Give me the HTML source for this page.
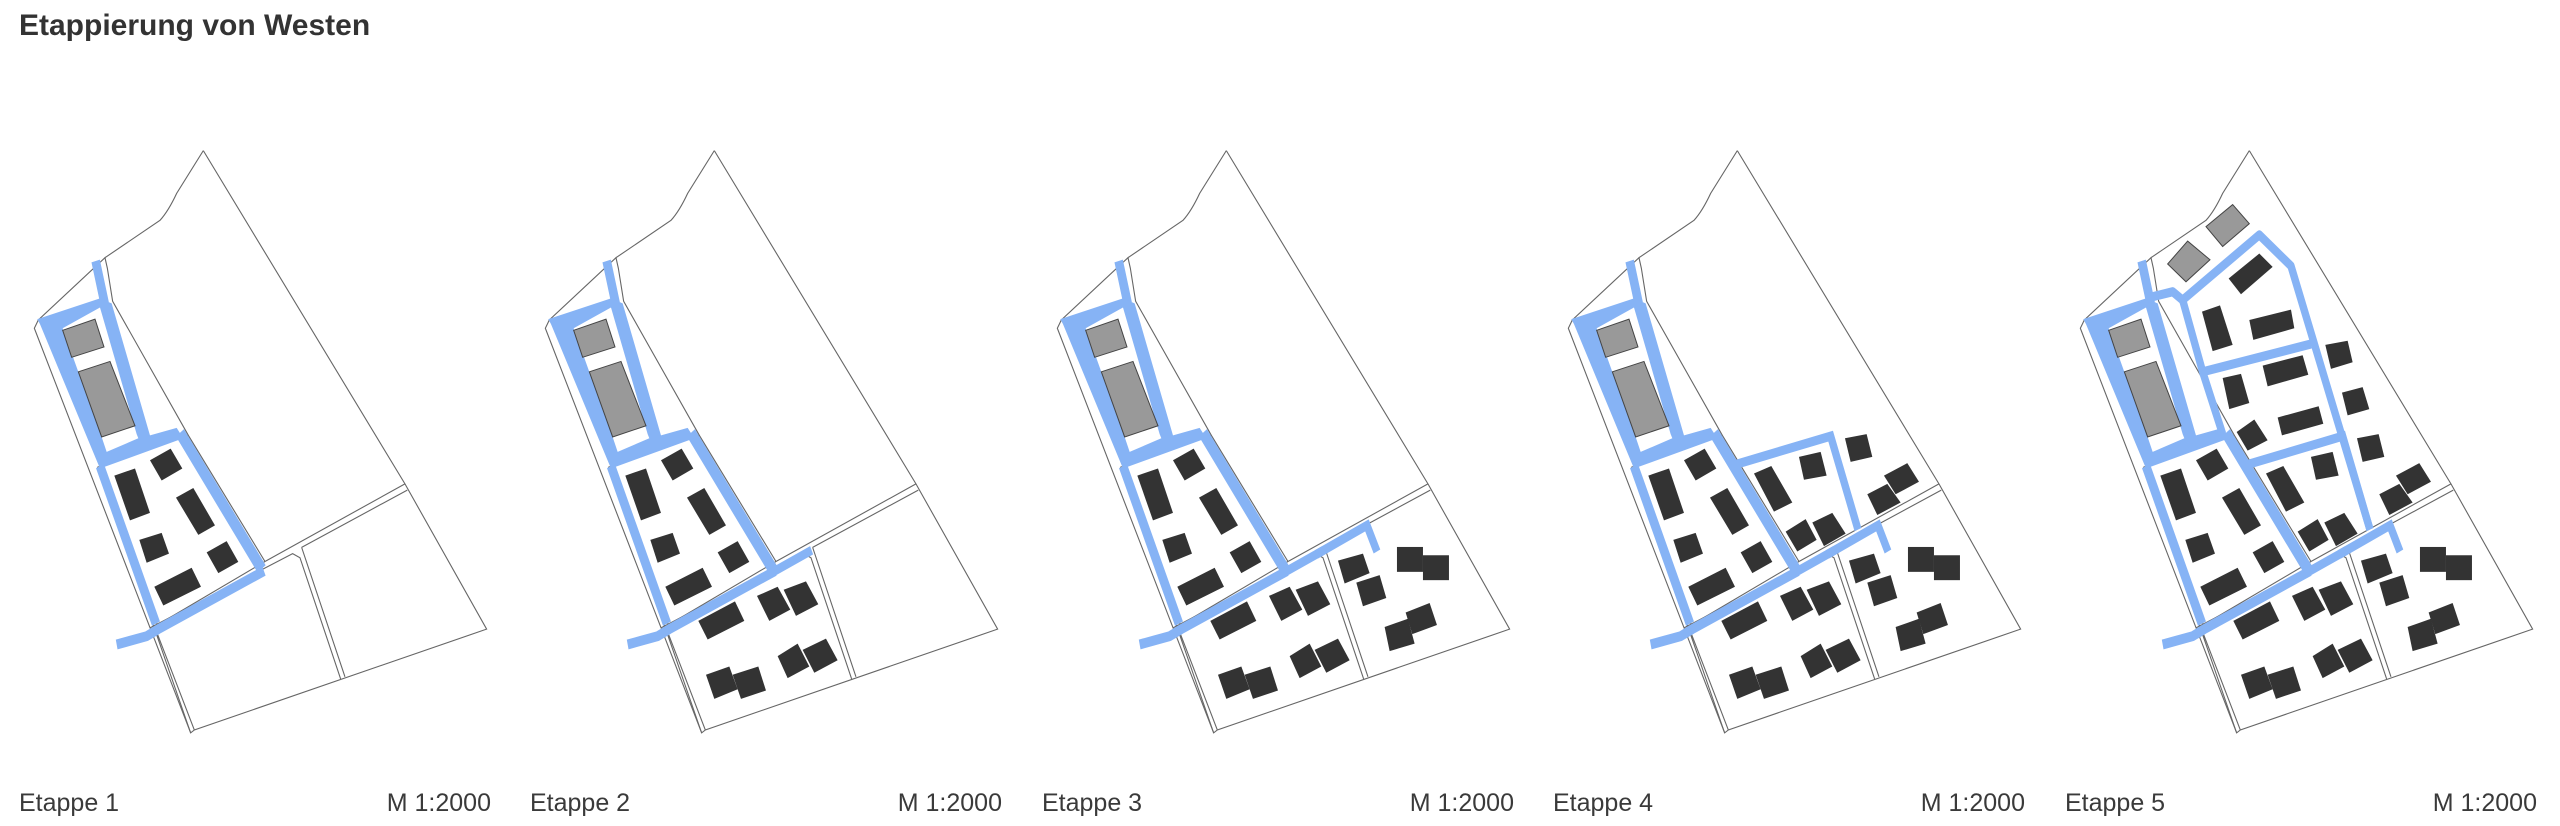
<!DOCTYPE html>
<html><head><meta charset="utf-8"><style>
html,body{margin:0;padding:0;background:#fff;}
svg{display:block;}
.t{font-family:"Liberation Sans",sans-serif;fill:#3a3a3a;}
</style></head><body>
<svg width="2560" height="826" viewBox="0 0 2560 826" xmlns="http://www.w3.org/2000/svg">
<defs>
<g id="base">
  <g fill="none" stroke="#666" stroke-width="1.1">
    <path vector-effect="non-scaling-stroke" d="M610,122 L1215,925 L1460,1275 L583,1518 L572,1525 L103,550 L115,530 L315,380 L322,405 L338,485 L565,808 L795,1112"/>
    <path vector-effect="non-scaling-stroke" d="M315,380 L480,290 Q505,268 530,225 L610,122"/>
    <path vector-effect="non-scaling-stroke" d="M292,885 L565,808"/>
    <path vector-effect="non-scaling-stroke" d="M292,885 L462,1270 M302,890 L472,1265"/>
    <path vector-effect="non-scaling-stroke" d="M450,1272 L878,1093 L900,1103 L1022,1395"/>
    <path vector-effect="non-scaling-stroke" d="M795,1112 L1215,925 M905,1078 L1222,940 M905,1078 L1035,1390"/>
    <path vector-effect="non-scaling-stroke" d="M472,1265 L795,1112"/>
    <path vector-effect="non-scaling-stroke" d="M462,1270 L572,1525 M470,1282 L583,1518"/>
  </g>
  <g fill="none" stroke="#86b3f5" stroke-linejoin="miter">
    <line x1="287" y1="388" x2="314" y2="490" stroke-width="26"/>
    <line x1="300" y1="882" x2="468" y2="1262" stroke-width="26"/>
    <line x1="540" y1="802" x2="785" y2="1130" stroke-width="30"/>
    <polyline points="350,1312 440,1292 475,1275 792,1135" stroke-width="24"/>
  </g>
  <polygon fill="#86b3f5" points="112,528 300,478 335,490 450,808 530,790 550,815 300,888 120,540"/>
  <polygon fill="#fff" points="188,550 300,500 410,805 415,815 320,848 305,812 235,655"/>
  <polygon fill="#999" stroke="#444" stroke-width="1" vector-effect="non-scaling-stroke" points="188,555 285,528 312,595 215,620"/>
  <polygon fill="#999" stroke="#444" stroke-width="1" vector-effect="non-scaling-stroke" points="235,655 330,630 405,785 305,812"/>
  <g fill="#333">
    <polygon points="343,905 405,888 450,995 390,1013"/>
    <polygon points="450,868 512,840 547,888 485,917"/>
    <polygon points="528,958 580,935 645,1025 595,1048"/>
    <polygon points="418,1060 485,1043 507,1093 440,1115"/>
    <polygon points="620,1090 680,1063 715,1113 655,1140"/>
    <polygon points="463,1173 575,1127 603,1173 490,1218"/>
  </g>
</g>
<g id="s2">
  <polyline fill="none" stroke="#86b3f5" stroke-width="22" points="780,1140 902,1085"/>
  <g fill="#333">
    <polygon points="562,1255 672,1208 700,1255 590,1300"/>
    <polygon points="738,1195 800,1173 838,1228 775,1255"/>
    <polygon points="818,1180 885,1160 922,1215 855,1243"/>
    <polygon points="585,1385 655,1365 680,1420 610,1443"/>
    <polygon points="665,1385 742,1365 765,1423 690,1443"/>
    <polygon points="800,1340 860,1310 895,1365 830,1393"/>
    <polygon points="875,1325 945,1298 980,1350 910,1380"/>
  </g>
</g>
<g id="s3">
  <polyline fill="none" stroke="#86b3f5" stroke-width="22" points="880,1095 1032,1025 1062,1088"/>
  <g fill="#333">
    <polygon points="945,1110 1020,1093 1040,1140 965,1165"/>
    <polygon points="1000,1163 1070,1145 1090,1200 1020,1220"/>
    <rect x="1122" y="1077" width="78" height="60"/>
    <rect x="1200" y="1097" width="78" height="60"/>
    <polygon points="1085,1270 1155,1250 1175,1310 1100,1328"/>
    <polygon points="1148,1235 1220,1212 1242,1265 1168,1287"/>
  </g>
</g>
<g id="s4">
  <polyline fill="none" stroke="#86b3f5" stroke-width="22" points="598,880 890,810 972,1035"/>
  <g fill="#333">
    <polygon points="660,900 712,882 775,970 720,992"/>
    <polygon points="795,860 860,848 878,905 810,915"/>
    <polygon points="933,815 998,805 1015,860 950,872"/>
    <polygon points="755,1040 815,1010 848,1060 790,1088"/>
    <polygon points="835,1018 895,995 935,1045 870,1075"/>
    <polygon points="1000,950 1060,925 1100,970 1030,1000"/>
    <polygon points="1050,905 1120,875 1155,920 1085,950"/>
  </g>
</g>
<g id="s5">
  <g fill="none" stroke="#86b3f5" stroke-width="22" stroke-linejoin="round">
    <polyline points="300,478 380,462 410,482 640,325 735,400 972,1035"/>
    <polyline points="410,482 470,655 530,805"/>
    <polyline points="470,655 795,588"/>
  </g>
  <g fill="#999" stroke="#444" stroke-width="1">
    <polygon vector-effect="non-scaling-stroke" points="365,395 425,340 492,385 420,438"/>
    <polygon vector-effect="non-scaling-stroke" points="480,305 560,252 610,298 530,353"/>
  </g>
  <g fill="#333">
    <polygon points="548,430 640,370 680,402 585,468"/>
    <polygon points="468,510 522,495 560,590 500,605"/>
    <polygon points="610,530 735,505 745,550 622,578"/>
    <polygon points="838,590 905,580 920,632 855,648"/>
    <polygon points="650,640 770,615 787,662 665,690"/>
    <polygon points="530,670 585,660 610,730 550,745"/>
    <polygon points="572,800 625,770 665,820 605,845"/>
    <polygon points="695,765 818,738 832,780 708,808"/>
    <polygon points="888,705 950,692 970,745 905,760"/>
  </g>
</g>
</defs>

<text class="t" x="19" y="35" font-size="30" font-weight="bold" style="fill:#333">Etappierung von Westen</text>

<g transform="translate(0,100) scale(0.3333,0.415)"><use href="#base"/></g>
<g transform="translate(511,100) scale(0.3333,0.415)"><use href="#base"/><use href="#s2"/></g>
<g transform="translate(1023,100) scale(0.3333,0.415)"><use href="#base"/><use href="#s2"/><use href="#s3"/></g>
<g transform="translate(1534,100) scale(0.3333,0.415)"><use href="#base"/><use href="#s2"/><use href="#s3"/><use href="#s4"/></g>
<g transform="translate(2046,100) scale(0.3333,0.415)"><use href="#base"/><use href="#s2"/><use href="#s3"/><use href="#s4"/><use href="#s5"/></g>

<g class="t" font-size="25">
  <text x="19" y="811">Etappe 1</text><text x="491" y="811" text-anchor="end">M 1:2000</text>
  <text x="530" y="811">Etappe 2</text><text x="1002" y="811" text-anchor="end">M 1:2000</text>
  <text x="1042" y="811">Etappe 3</text><text x="1514" y="811" text-anchor="end">M 1:2000</text>
  <text x="1553" y="811">Etappe 4</text><text x="2025" y="811" text-anchor="end">M 1:2000</text>
  <text x="2065" y="811">Etappe 5</text><text x="2537" y="811" text-anchor="end">M 1:2000</text>
</g>
</svg>
</body></html>
